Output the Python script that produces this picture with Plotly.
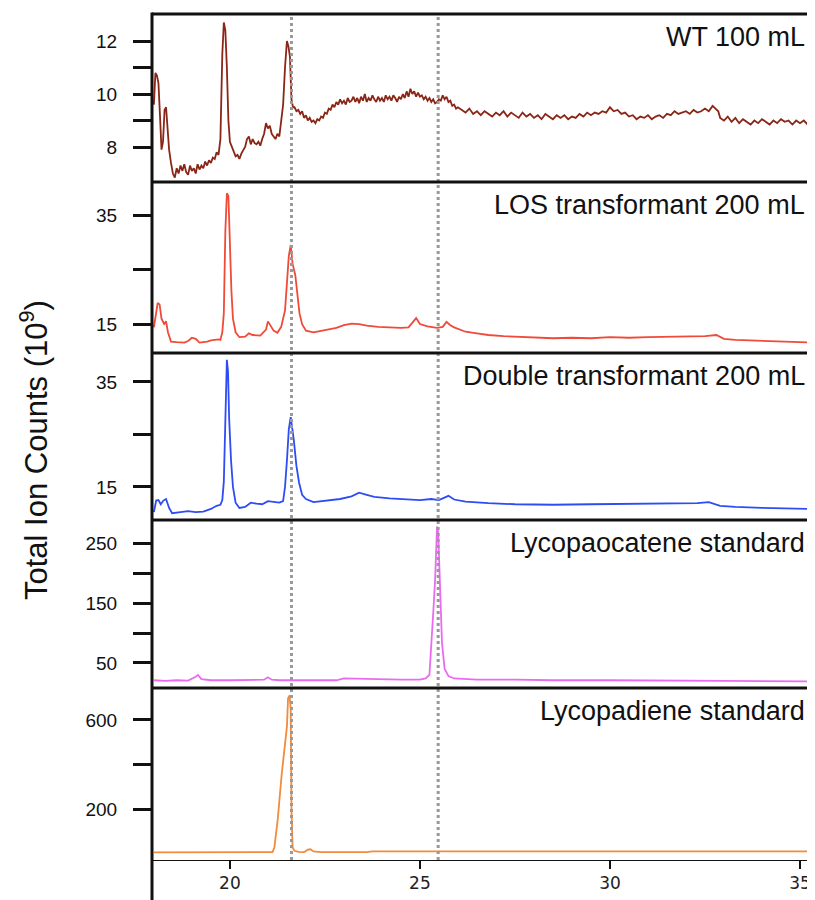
import plotly.graph_objects as go

# ---------------- data ----------------
wt_time = [18.00, 18.04, 18.08, 18.12, 18.16, 18.20, 18.24, 18.28, 18.32, 18.36, 18.40, 18.45, 18.50, 18.55,
           18.60, 18.65, 18.70, 18.75, 18.80, 18.85, 18.90, 18.95, 19.00, 19.05, 19.10, 19.15, 19.20, 19.25,
           19.30, 19.35, 19.40, 19.45, 19.50, 19.55, 19.60, 19.65, 19.70, 19.75, 19.80, 19.84, 19.88, 19.92,
           19.96, 20.00, 20.05, 20.10, 20.15, 20.20, 20.25, 20.30, 20.35, 20.40, 20.45, 20.50, 20.55, 20.60,
           20.65, 20.70, 20.75, 20.80, 20.85, 20.90, 20.95, 21.00, 21.05, 21.10, 21.15, 21.20, 21.25, 21.30,
           21.35, 21.40, 21.45, 21.50, 21.54, 21.58, 21.62, 21.66, 21.70, 21.75, 21.80, 21.85, 21.90, 21.95,
           22.00, 22.05, 22.10, 22.15, 22.20, 22.25, 22.30, 22.35, 22.40, 22.45, 22.50, 22.55, 22.60, 22.65,
           22.70, 22.75, 22.80, 22.85, 22.90, 22.95, 23.00, 23.05, 23.10, 23.15, 23.20, 23.25, 23.30, 23.35,
           23.40, 23.45, 23.50, 23.55, 23.60, 23.65, 23.70, 23.75, 23.80, 23.85, 23.90, 23.95, 24.00, 24.05,
           24.10, 24.15, 24.20, 24.25, 24.30, 24.35, 24.40, 24.45, 24.50, 24.55, 24.60, 24.65, 24.70, 24.75,
           24.80, 24.85, 24.90, 24.95, 25.00, 25.05, 25.10, 25.15, 25.20, 25.25, 25.30, 25.35, 25.40, 25.45,
           25.50, 25.55, 25.60, 25.65, 25.70, 25.75, 25.80, 25.85, 25.90, 25.95, 26.00, 26.10, 26.20, 26.30,
           26.40, 26.50, 26.60, 26.70, 26.80, 26.90, 27.00, 27.10, 27.20, 27.30, 27.40, 27.50, 27.60, 27.70,
           27.80, 27.90, 28.00, 28.10, 28.20, 28.30, 28.40, 28.50, 28.60, 28.70, 28.80, 28.90, 29.00, 29.10,
           29.20, 29.30, 29.40, 29.50, 29.60, 29.70, 29.80, 29.90, 30.00, 30.10, 30.20, 30.30, 30.40, 30.50,
           30.60, 30.70, 30.80, 30.90, 31.00, 31.10, 31.20, 31.30, 31.40, 31.50, 31.60, 31.70, 31.80, 31.90,
           32.00, 32.10, 32.20, 32.30, 32.40, 32.50, 32.60, 32.70, 32.80, 32.85, 32.90, 33.00, 33.10, 33.20,
           33.30, 33.40, 33.50, 33.60, 33.70, 33.80, 33.90, 34.00, 34.10, 34.20, 34.30, 34.40, 34.50, 34.60,
           34.70, 34.80, 34.90, 35.00, 35.10, 35.20, 35.30, 35.40]
wt_tic = [9.6, 10.8, 10.7, 10.4, 9.2, 7.9, 8.2, 9.4, 9.5, 8.6, 7.9, 7.4, 7.0, 6.85,
          7.2, 7.0, 7.3, 7.1, 7.35, 7.05, 6.95, 7.3, 7.1, 7.2, 7.0, 7.35, 7.15, 7.3,
          7.2, 7.45, 7.3, 7.5, 7.4, 7.6, 7.55, 7.8, 7.7, 8.3, 11.5, 12.7, 12.4, 11.0,
          9.0, 8.2, 8.0, 7.8, 7.65, 7.7, 7.55, 7.75, 7.9, 8.0, 8.3, 8.4, 8.1, 8.3,
          8.15, 8.1, 8.2, 8.05, 8.3, 8.5, 8.9, 8.7, 8.8, 8.5, 8.4, 8.3, 8.5, 8.4,
          9.0, 9.6, 11.0, 12.0, 11.8, 11.4, 9.8, 9.5, 9.5, 9.35, 9.4, 9.25, 9.35, 9.1,
          9.2, 9.0, 9.1, 8.95, 9.0, 8.9, 9.05, 9.0, 9.15, 9.1, 9.3, 9.25, 9.45, 9.4,
          9.6, 9.5, 9.7, 9.6, 9.8, 9.65, 9.75, 9.6, 9.85, 9.7, 9.75, 9.9, 9.7, 9.85,
          9.65, 9.9, 9.75, 10.0, 9.7, 9.85, 9.75, 9.95, 9.8, 9.7, 9.9, 9.75, 9.85, 9.7,
          9.95, 9.8, 9.9, 9.75, 9.95, 9.85, 9.7, 9.9, 9.8, 10.0, 9.85, 10.1, 9.9, 10.2,
          10.0, 10.1, 9.9, 10.05, 9.9, 9.95, 9.8, 9.9, 9.75, 9.85, 9.7, 9.8, 9.65, 9.7,
          9.8, 9.75, 9.95, 9.8, 9.9, 9.7, 9.75, 9.55, 9.6, 9.45, 9.5, 9.4, 9.3, 9.45,
          9.25, 9.35, 9.2, 9.35, 9.25, 9.15, 9.3, 9.2, 9.35, 9.15, 9.3, 9.2, 9.1, 9.3,
          9.15, 9.25, 9.1, 9.2, 9.05, 9.25, 9.15, 9.05, 9.2, 9.1, 9.2, 9.05, 9.15, 9.1,
          9.25, 9.15, 9.3, 9.2, 9.3, 9.25, 9.35, 9.3, 9.5, 9.35, 9.4, 9.25, 9.3, 9.15,
          9.2, 9.05, 9.15, 9.1, 9.2, 9.05, 9.15, 9.2, 9.1, 9.25, 9.2, 9.35, 9.25, 9.3,
          9.35, 9.25, 9.4, 9.3, 9.35, 9.45, 9.35, 9.55, 9.4, 9.35, 9.1, 9.0, 9.15, 8.95,
          9.1, 8.9, 9.05, 8.95, 8.85, 9.0, 8.9, 9.05, 8.95, 8.85, 9.0, 8.9, 9.05, 8.95,
          9.0, 8.85, 9.0, 8.9, 9.0, 8.85, 8.95, 9.0]

los_time = [18.00, 18.05, 18.10, 18.15, 18.20, 18.27, 18.32, 18.37, 18.45, 18.60, 18.80, 18.90, 19.00, 19.10,
            19.20, 19.40, 19.50, 19.70, 19.75, 19.80, 19.84, 19.88, 19.92, 19.96, 20.00, 20.04, 20.08, 20.15,
            20.25, 20.40, 20.50, 20.60, 20.80, 20.95, 21.00, 21.05, 21.15, 21.25, 21.35, 21.45, 21.50, 21.55,
            21.60, 21.65, 21.72, 21.78, 21.83, 21.90, 22.00, 22.20, 22.50, 22.80, 23.00, 23.20, 23.40, 23.60,
            23.90, 24.20, 24.50, 24.70, 24.90, 25.00, 25.20, 25.45, 25.60, 25.70, 25.80, 25.90, 26.20, 26.50,
            26.80, 27.20, 27.50, 28.00, 28.50, 29.00, 29.50, 30.00, 30.50, 31.00, 31.50, 32.00, 32.50, 32.80,
            33.00, 33.30, 33.80, 34.30, 34.80, 35.40]
los_tic = [14.4, 16.5, 18.9, 18.6, 16.0, 15.0, 15.5, 13.5, 11.8, 11.7, 11.6, 11.9, 12.5, 12.3,
           11.6, 11.8, 12.0, 12.2, 12.1, 13.5, 17.0, 32.0, 39.0, 38.5, 29.0, 21.0, 16.0, 13.5,
           12.6, 12.7, 13.3, 13.0, 12.9, 14.0, 15.5, 15.0, 13.8, 13.4, 14.5, 17.5, 23.0, 27.5,
           29.5, 26.0, 24.0, 20.0, 17.0, 15.0, 13.8, 13.5, 13.9, 14.3, 14.8, 15.1, 15.0, 14.7,
           14.5, 14.4, 14.3, 14.4, 16.1, 15.0, 14.6, 14.3, 14.5, 15.4, 14.8, 14.4, 13.6, 13.3,
           13.0, 12.8, 12.7, 12.6, 12.4, 12.5, 12.4, 12.6, 12.5, 12.6, 12.7, 12.8, 12.8, 13.0,
           12.3, 12.1, 12.0, 11.9, 11.8, 11.6]

dbl_time = [18.00, 18.06, 18.12, 18.18, 18.25, 18.32, 18.40, 18.48, 18.70, 18.90, 19.10, 19.30, 19.50, 19.65,
            19.75, 19.80, 19.84, 19.88, 19.92, 19.95, 19.98, 20.03, 20.08, 20.15, 20.25, 20.40, 20.55, 20.70,
            20.85, 21.00, 21.10, 21.30, 21.40, 21.45, 21.50, 21.55, 21.60, 21.63, 21.68, 21.75, 21.82, 21.90,
            22.00, 22.20, 22.50, 22.90, 23.20, 23.40, 23.60, 23.80, 24.20, 24.60, 25.00, 25.30, 25.50, 25.75,
            25.90, 26.20, 26.80, 27.50, 28.50, 29.50, 30.50, 31.50, 32.30, 32.60, 32.90, 33.30, 34.00, 35.40]
dbl_tic = [10.2, 12.4, 12.5, 11.7, 12.4, 12.7, 11.0, 10.0, 10.2, 10.4, 10.2, 10.3, 10.8, 11.4,
           11.6, 12.5, 16.0, 30.0, 39.2, 37.0, 28.0, 20.0, 15.0, 12.0, 11.0, 11.2, 12.0, 11.8,
           11.7, 12.3, 12.2, 12.0, 12.3, 15.0, 20.0, 26.0, 28.3, 27.0, 24.0, 19.0, 15.8, 13.5,
           12.7, 12.1, 12.3, 12.7, 13.2, 13.9, 13.5, 13.1, 12.8, 12.6, 12.5, 12.7, 12.5, 13.3,
           12.6, 12.2, 11.9, 11.7, 11.6, 11.7, 11.8, 11.8, 11.9, 12.1, 11.4, 11.2, 11.0, 10.8]

lpc_time = [18.00, 18.30, 18.60, 18.90, 19.10, 19.16, 19.25, 19.50, 20.00, 20.50, 20.90, 21.00, 21.10, 21.30,
            21.60, 22.00, 22.50, 22.80, 23.00, 23.50, 24.00, 24.50, 25.00, 25.15, 25.25, 25.30, 25.35, 25.40,
            25.45, 25.48, 25.52, 25.58, 25.65, 25.75, 25.90, 26.50, 27.50, 28.50, 30.00, 31.00, 32.00, 33.00,
            35.40]
lpc_tic = [21, 20, 21, 20.5, 27, 30, 23, 21, 21, 21, 22, 26, 22, 21,
           21, 21, 21, 21, 24, 23, 23, 22, 22, 24, 30, 77, 134, 190,
           279, 270, 178, 84, 40, 28, 24, 22, 22, 21, 21, 21, 20.5, 20,
           19]

lpd_time = [18.00, 19.00, 20.00, 21.00, 21.12, 21.17, 21.26, 21.36, 21.44, 21.50, 21.53, 21.57, 21.60, 21.62,
            21.65, 21.70, 21.80, 21.95, 22.05, 22.12, 22.20, 22.40, 23.00, 23.60, 23.75, 24.50, 26.00, 28.00,
            30.00, 35.40]
lpd_tic = [8, 8, 8, 8, 9, 30, 158, 353, 465, 570, 697, 710, 650, 200,
           30, 15, 10, 9, 20, 22, 12, 9, 9, 9, 13, 13, 13, 13,
           13, 13]

panel_names = ["WT 100 mL", "LOS transformant 200 mL", "Double transformant 200 mL",
               "Lycopaocatene standard", "Lycopadiene standard"]
series_colors = ["#8a2617", "#f04a38", "#2e4cf6", "#e96cf0", "#f28b3b"]
marker_times = [21.62, 25.48]

y_ranges = [[6.68, 13.02], [9.7, 41.05], [8.7, 40.5], [8, 290], [-26, 743]]
y_major = [[8, 10, 12], [15, 35], [15, 35], [50, 150, 250], [200, 600]]
y_major_text = [["8", "10", "12"], ["15", "35"], ["15", "35"], ["50", "150", "250"], ["200", "600"]]
y_minor = [[9, 11], [25], [25], [100, 200], [400]]
x_tickvals = [20, 25, 30, 35]
x_ticktext = ["20", "25", "30", "35"]
x_range = [17.95, 35.29]
y_title = "Total Ion Counts (10<sup>9</sup>)"

# ---------------- layout geometry (page px; page body has an 8px offset) ----------------
OFF = 8
W, H = 815 - OFF, 900 - OFF
ML, MR, MT, MB = 152 - OFF, 4, 14 - OFF, 40
plot_w = W - ML - MR
plot_h = H - MT - MB
bounds_px = [14, 182, 353, 520, 688, 860]   # page y of panel boundaries


def py(px):
    return (H - MB - (px - OFF)) / plot_h


def pxx(px):
    return (px - OFF - ML) / plot_w


domains = [[py(bounds_px[i + 1]), py(bounds_px[i])] for i in range(5)]
domains[0][1] = 1.0
domains[4][0] = 0.0

series = [(wt_time, wt_tic), (los_time, los_tic), (dbl_time, dbl_tic),
          (lpc_time, lpc_tic), (lpd_time, lpd_tic)]

fig = go.Figure()
for i, (t, v) in enumerate(series):
    yname = "y" if i == 0 else f"y{i + 1}"
    fig.add_trace(go.Scatter(x=t, y=v, mode="lines", xaxis="x", yaxis=yname,
                             line=dict(color=series_colors[i], width=1.8),
                             showlegend=False, name=panel_names[i]))

tick_font = dict(family="Liberation Sans, Arial, sans-serif", size=19, color="#111")
layout = dict(
    width=W, height=H, autosize=False,
    margin=dict(l=ML, r=MR, t=MT, b=MB),
    paper_bgcolor="white", plot_bgcolor="white",
    xaxis=dict(domain=[0, 1], range=x_range, anchor="y5", showline=True, linecolor="#111",
               linewidth=1, ticks="outside", ticklen=8, tickwidth=1.5, tickcolor="#111",
               tickvals=x_tickvals, ticktext=x_ticktext, showgrid=False, zeroline=False,
               tickfont=dict(family="DejaVu Sans, sans-serif", size=17, color="#222")),
)
for i in range(5):
    key = "yaxis" if i == 0 else f"yaxis{i + 1}"
    layout[key] = dict(domain=domains[i], range=y_ranges[i], anchor="x", showline=False,
                       ticks="outside", ticklen=18, tickwidth=3, tickcolor="#111",
                       tickvals=y_major[i], ticktext=y_major_text[i], showgrid=False,
                       zeroline=False, tickfont=tick_font, ticklabelstandoff=12,
                       minor=dict(tickvals=y_minor[i], ticks="outside", ticklen=18, tickwidth=3,
                                  tickcolor="#111", showgrid=False))
fig.update_layout(**layout)

shapes = []
# marker (dotted) lines
for mt in marker_times:
    shapes.append(dict(type="line", xref="x", yref="paper", x0=mt, x1=mt, y0=0, y1=1,
                       line=dict(color="#999999", width=3, dash="dot"), layer="above"))
# panel borders
xr_end = (W - ML) / plot_w
for i, b in enumerate(bounds_px[:5]):
    yy = py(b)
    x1 = 1.0 if i < 3 else xr_end
    shapes.append(dict(type="line", xref="paper", yref="paper", x0=0, x1=x1, y0=yy, y1=yy,
                       line=dict(color="#111", width=3), layer="above"))
shapes.append(dict(type="line", xref="paper", yref="paper", x0=0, x1=0, y0=py(900), y1=py(12.5),
                   line=dict(color="#111", width=3), layer="above"))
shapes.append(dict(type="line", xref="paper", yref="paper", x0=1, x1=1, y0=py(bounds_px[3]), y1=py(12.5),
                   line=dict(color="#111", width=3), layer="above"))
fig.update_layout(shapes=shapes)

annotations = []
for i, name in enumerate(panel_names):
    annotations.append(dict(text=name, xref="paper", yref="paper", x=pxx(807),
                            y=py(bounds_px[i] + 23), xanchor="right", yanchor="middle",
                            showarrow=False,
                            font=dict(family="Liberation Sans, Arial, sans-serif", size=27, color="#111")))
annotations.append(dict(text=y_title, xref="paper", yref="paper", x=pxx(34),
                        y=py(450), xanchor="center", yanchor="middle", textangle=-90, showarrow=False,
                        font=dict(family="Liberation Sans, Arial, sans-serif", size=31, color="#111")))
fig.update_layout(annotations=annotations)

fig.write_html("out.html")
